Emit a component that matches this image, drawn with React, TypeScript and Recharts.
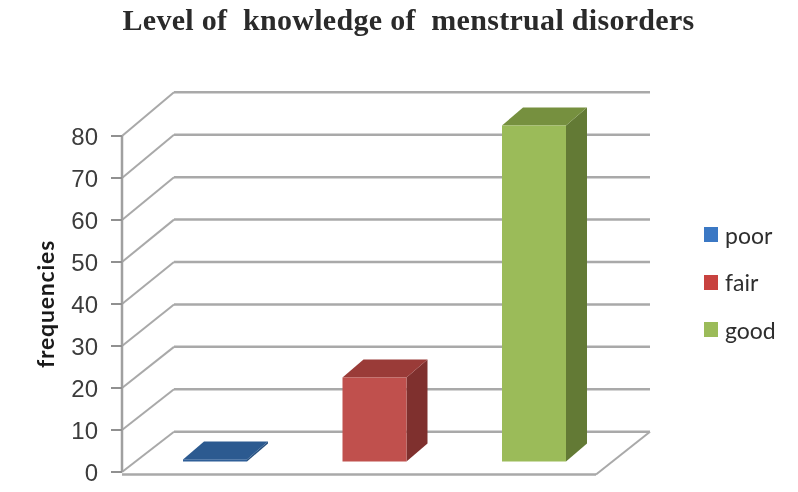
import { BarChart, Bar, Cell, XAxis, YAxis, CartesianGrid, Legend } from 'recharts'

const categories = ['poor', 'fair', 'good']
const frequencies = [0.5, 20, 80]
const yTicks = [0, 10, 20, 30, 40, 50, 60, 70, 80]

const frontColors = ['#2f5f98', '#c0504d', '#9bbb59']
const topColors = ['#2c5a90', '#9a3b38', '#76903f']
const sideColors = ['#27507f', '#7f302e', '#637a35']
const legendColors = ['#3b78c4', '#c8423f', '#9bbb59']

const data = categories.map((name, i) => ({ name, value: frequencies[i] }))

const GRID = '#a9a9a9'

// back wall line + slanted side wall line for every tick
function gridLine(props: any) {
    const { x1, y1, y2 } = props
    const backY = 431.7 + (y1 - 472) * 1.01
    return (
        <g key={`grid-${y2}`}>
            <line x1={x1} y1={y1} x2={x1 + 52} y2={backY} stroke={GRID} strokeWidth={2} />
            <line x1={x1 + 52} y1={backY} x2={650} y2={backY} stroke={GRID} strokeWidth={2.5} />
            {y1 === 472 && (
                <>
                    <line x1={x1} y1={474.5} x2={596} y2={474.5} stroke={GRID} strokeWidth={2.5} />
                    <line x1={596} y1={474.5} x2={650} y2={backY} stroke={GRID} strokeWidth={2} />
                </>
            )}
        </g>
    )
}

// fake 3d box, sits a bit inside the floor
function Box3D(props: any) {
    const { x, y, width, height, index } = props
    const left = x + 13
    const right = left + width
    const top = y - 10.5
    const bottom = top + height
    const dx = 21
    const dy = -18
    return (
        <g>
            <polygon
                points={`${right},${top} ${right + dx},${top + dy} ${right + dx},${bottom + dy} ${right},${bottom}`}
                fill={sideColors[index]}
            />
            <polygon
                points={`${left},${top} ${left + dx},${top + dy} ${right + dx},${top + dy} ${right},${top}`}
                fill={topColors[index]}
            />
            <rect x={left} y={top} width={width} height={height} fill={frontColors[index]} />
        </g>
    )
}

function LegendBox() {
    return (
        <div style={{ fontFamily: 'Lato, sans-serif', fontSize: 23, color: '#2e2e2e' }}>
            {categories.map((name, i) => (
                <div key={name} style={{ display: 'flex', alignItems: 'center', height: 47.5 }}>
                    <span
                        style={{ width: 14, height: 15, background: legendColors[i], marginRight: 7, display: 'inline-block' }}
                    />
                    {name}
                </div>
            ))}
        </div>
    )
}

export default function App() {
    return (
        <div style={{ position: 'absolute', left: 0, top: 0, width: 798, height: 492, background: '#fff', filter: 'blur(0.6px)' }}>
            <div
                style={{
                    position: 'absolute',
                    left: 0,
                    width: 817,
                    top: 3,
                    textAlign: 'center',
                    whiteSpace: 'pre',
                    fontFamily: '"Liberation Serif", serif',
                    fontWeight: 'bold',
                    fontSize: 30,
                    letterSpacing: 0.3,
                    color: '#2a2a2a',
                }}
            >
                Level of  knowledge of  menstrual disorders
            </div>
            <BarChart
                width={798}
                height={492}
                data={data}
                margin={{ top: 136, right: 197.5, bottom: 20, left: 62 }}
                barSize={64}
            >
                <CartesianGrid vertical={false} horizontal={gridLine} />
                <XAxis dataKey="name" hide />
                <YAxis
                    width={60}
                    domain={[0, 80]}
                    ticks={yTicks}
                    interval={0}
                    tickSize={11}
                    tickMargin={13}
                    axisLine={{ stroke: '#a0a0a0', strokeWidth: 2.5 }}
                    tickLine={{ stroke: '#909090', strokeWidth: 2 }}
                    tick={{ fill: '#3c3c3c', fontSize: 24, fontFamily: '"Liberation Sans", sans-serif' }}
                    label={{
                        value: 'frequencies',
                        angle: -90,
                        position: 'insideLeft',
                        offset: -16,
                        style: {
                            textAnchor: 'middle',
                            fontFamily: 'Lato, sans-serif',
                            fontWeight: 'bold',
                            fontSize: 23,
                            letterSpacing: 0.8,
                            fill: '#1a1a1a',
                        },
                    }}
                />
                <Legend
                    content={<LegendBox />}
                    layout="vertical"
                    align="center"
                    verticalAlign="middle"
                    wrapperStyle={{ position: 'absolute', left: 704, top: 211, width: 90 }}
                />
                <Bar dataKey="value" shape={<Box3D />} isAnimationActive={false}>
                    {data.map((d, i) => (
                        <Cell key={d.name} fill={frontColors[i]} />
                    ))}
                </Bar>
            </BarChart>
        </div>
    )
}
